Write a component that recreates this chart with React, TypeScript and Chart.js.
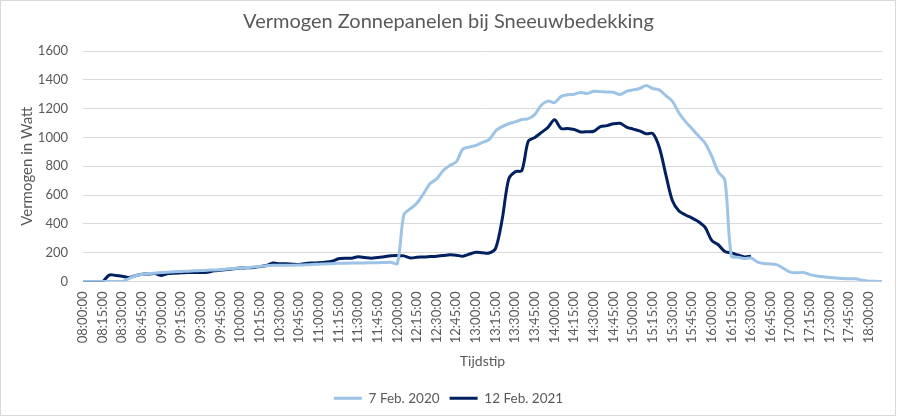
import React, { useEffect, useRef } from "react";
import { Chart, registerables } from "chart.js";

Chart.register(...registerables);

const TITLE = "Vermogen Zonnepanelen bij Sneeuwbedekking";
const Y_TITLE = "Vermogen in Watt";
const X_TITLE = "Tijdstip";
const LABEL_2020 = "7 Feb. 2020";
const LABEL_2021 = "12 Feb. 2021";

const TIMES = [
  "08:00:00", "08:05:00", "08:10:00", "08:15:00", "08:20:00", "08:25:00",
  "08:30:00", "08:35:00", "08:40:00", "08:45:00", "08:50:00", "08:55:00",
  "09:00:00", "09:05:00", "09:10:00", "09:15:00", "09:20:00", "09:25:00",
  "09:30:00", "09:35:00", "09:40:00", "09:45:00", "09:50:00", "09:55:00",
  "10:00:00", "10:05:00", "10:10:00", "10:15:00", "10:20:00", "10:25:00",
  "10:30:00", "10:35:00", "10:40:00", "10:45:00", "10:50:00", "10:55:00",
  "11:00:00", "11:05:00", "11:10:00", "11:15:00", "11:20:00", "11:25:00",
  "11:30:00", "11:35:00", "11:40:00", "11:45:00", "11:50:00", "11:55:00",
  "12:00:00", "12:05:00", "12:10:00", "12:15:00", "12:20:00", "12:25:00",
  "12:30:00", "12:35:00", "12:40:00", "12:45:00", "12:50:00", "12:55:00",
  "13:00:00", "13:05:00", "13:10:00", "13:15:00", "13:20:00", "13:25:00",
  "13:30:00", "13:35:00", "13:40:00", "13:45:00", "13:50:00", "13:55:00",
  "14:00:00", "14:05:00", "14:10:00", "14:15:00", "14:20:00", "14:25:00",
  "14:30:00", "14:35:00", "14:40:00", "14:45:00", "14:50:00", "14:55:00",
  "15:00:00", "15:05:00", "15:10:00", "15:15:00", "15:20:00", "15:25:00",
  "15:30:00", "15:35:00", "15:40:00", "15:45:00", "15:50:00", "15:55:00",
  "16:00:00", "16:05:00", "16:10:00", "16:15:00", "16:20:00", "16:25:00",
  "16:30:00", "16:35:00", "16:40:00", "16:45:00", "16:50:00", "16:55:00",
  "17:00:00", "17:05:00", "17:10:00", "17:15:00", "17:20:00", "17:25:00",
  "17:30:00", "17:35:00", "17:40:00", "17:45:00", "17:50:00", "17:55:00",
  "18:00:00", "18:05:00", "18:10:00",
];

// 7 Feb. 2020 (Watt, every 5 minutes)
const POWER_2020 = [
  0, 0, 0, 0, 0, 0, 0, 20, 40, 48, 55, 58,
  62, 65, 68, 70, 72, 74, 76, 78, 80, 82, 86, 90,
  94, 97, 100, 105, 110, 112, 112, 113, 113, 114, 116, 118,
  120, 122, 124, 126, 127, 128, 128, 129, 130, 130, 132, 133,
  125, 465, 505, 545, 610, 680, 712, 770, 805, 830, 920, 933,
  945, 965, 985, 1045, 1075, 1095, 1108, 1125, 1130, 1160, 1225, 1252,
  1242, 1285, 1296, 1300, 1312, 1305, 1320, 1318, 1315, 1313, 1298, 1320,
  1330, 1340, 1360, 1340, 1330, 1290, 1250, 1170, 1110, 1060, 1010, 960,
  870, 760, 705, 175, 168, 160, 163, 135, 125, 122, 115, 90,
  65, 60, 63, 48, 38, 33, 28, 25, 21, 19, 19, 8,
  2, 1, 0,
];

// 12 Feb. 2021 (Watt, every 5 minutes, until 16:30)
const POWER_2021 = [
  0, 0, 0, 0, 45, 42, 36, 28, 40, 51, 52, 55,
  42, 55, 58, 60, 62, 62, 63, 65, 74, 78, 83, 88,
  93, 95, 97, 104, 111, 128, 123, 123, 120, 118, 125, 128,
  130, 134, 141, 158, 162, 162, 172, 167, 162, 167, 172, 179,
  181, 178, 163, 168, 170, 173, 176, 180, 186, 183, 176, 190,
  203, 200, 198, 230, 430, 710, 762, 770, 975, 1000, 1035, 1070,
  1122, 1062, 1062, 1055, 1038, 1040, 1043, 1075, 1082, 1095, 1098, 1072,
  1058, 1045, 1025, 1027, 930, 740, 560, 490, 462, 440, 415, 375,
  285, 255, 208, 198, 184, 170, 175,
];

const Y_MIN = 0;
const Y_MAX = 1600;
const Y_STEP = 200;

const LIGHT = "#9DC3E6";
const DARK = "#002060";
const TEXT = "#595959";
const GRID = "#D9D9D9";
const FONT = "Lato";

export default function App() {
  const ref = useRef<HTMLCanvasElement>(null);

  useEffect(() => {
    document.body.style.margin = "0";
    const canvas = ref.current;
    if (!canvas) return;
    const chart = new Chart(canvas, {
      type: "line",
      data: {
        labels: TIMES,
        datasets: [
          {
            label: LABEL_2020,
            data: POWER_2020,
            borderColor: LIGHT,
            backgroundColor: LIGHT,
            borderWidth: 3,
            pointRadius: 0,
            tension: 0.3,
            fill: false,
          },
          {
            label: LABEL_2021,
            data: POWER_2021,
            borderColor: DARK,
            backgroundColor: DARK,
            borderWidth: 3,
            pointRadius: 0,
            tension: 0.3,
            fill: false,
          },
        ],
      },
      options: {
        animation: false,
        responsive: false,
        maintainAspectRatio: false,
        layout: { padding: { left: 15, right: 15, top: 0, bottom: 2 } },
        plugins: {
          title: {
            display: true,
            text: TITLE,
            color: TEXT,
            font: { family: FONT, size: 20, weight: "normal" },
            padding: { top: 10, bottom: 17 },
          },
          legend: {
            position: "bottom",
            labels: {
              usePointStyle: true,
              pointStyle: "line",
              pointStyleWidth: 28,
              color: TEXT,
              font: { family: FONT, size: 13.5 },
              padding: 10,
            },
          },
          tooltip: { enabled: false },
        },
        scales: {
          x: {
            grid: { display: false, drawTicks: false },
            border: { display: false },
            ticks: {
              autoSkip: false,
              minRotation: 90,
              maxRotation: 90,
              padding: 10,
              color: TEXT,
              font: { family: FONT, size: 13 },
              callback: (_v: any, i: number) => (i % 3 === 0 ? TIMES[i] : ""),
            },
            title: {
              display: true,
              text: X_TITLE,
              color: TEXT,
              font: { family: FONT, size: 14 },
              padding: { top: 0, bottom: 12 },
            },
            afterFit: (s: any) => {
              s.height = 100;
              s.paddingLeft = 0;
              s.paddingRight = 0;
            },
          },
          y: {
            min: Y_MIN,
            max: Y_MAX,
            grid: { color: GRID, drawTicks: false, lineWidth: 1 },
            border: { display: false },
            ticks: {
              stepSize: Y_STEP,
              padding: 15,
              color: TEXT,
              font: { family: FONT, size: 13 },
              callback: (v: any) => String(v),
            },
            title: {
              display: true,
              text: Y_TITLE,
              color: TEXT,
              font: { family: FONT, size: 15 },
              padding: { top: 3, bottom: 0 },
            },
            afterFit: (s: any) => {
              s.width = 68;
            },
          },
        },
      },
    });
    return () => chart.destroy();
  }, []);

  return (
    <div style={{ position: "relative", width: 897, height: 417, background: "#fff" }}>
      <canvas ref={ref} width={897} height={417} style={{ display: "block" }} />
      <div
        style={{
          position: "absolute",
          left: 0,
          top: 0,
          width: 896,
          height: 416,
          boxSizing: "border-box",
          border: "1px solid #D9D9D9",
          pointerEvents: "none",
        }}
      />
    </div>
  );
}
